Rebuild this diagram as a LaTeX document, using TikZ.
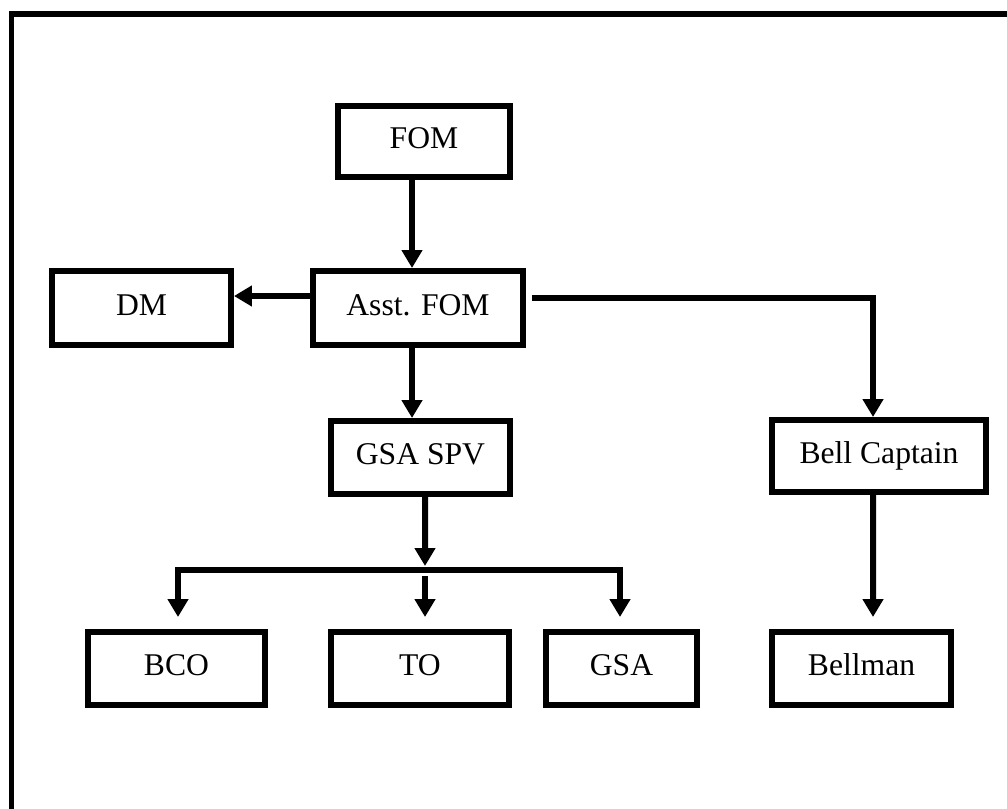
\documentclass[tikz,border=0pt]{standalone}
\usepackage{fontspec}
\setmainfont{Liberation Serif}
\usetikzlibrary{arrows.meta, positioning, calc}

\begin{document}
\begin{tikzpicture}[x=0.02cm, y=-0.02cm,
  box/.style={draw, line width=0.12cm, minimum height=1.46cm, inner sep=0pt,
              text height=0.42cm, text depth=0.14cm,
              font=\fontsize{18}{21}\selectfont},
  link/.style={line width=0.12cm},
  arr/.style={link, -{Triangle[length=0.36cm, width=0.4cm]}}]

\useasboundingbox (0,0) rectangle (1007,808);
\clip (0,0) rectangle (1007,808);

% outer frame (runs off the page right and below)
\draw[link] (11.5,860) |- (1060,14);

\node[box, minimum width=3.44cm, minimum height=1.42cm] (fom)  at (424,141.5) {FOM};
\node[box, minimum width=4.2cm,  minimum height=1.48cm] (asst) at (418,308)   {Asst. FOM};
\node[box, minimum width=3.58cm, minimum height=1.48cm] (dm)   at (141.5,308) {DM};
\node[box, minimum width=3.58cm] (gspv) at (420.5,457.5) {GSA SPV};
\node[box, minimum width=4.28cm, minimum height=1.44cm] (bcap) at (879,456) {Bell Captain};
\node[box, minimum width=3.54cm] (bco)  at (176.5,668.5) {BCO};
\node[box, minimum width=3.56cm] (to)   at (420,668.5)   {TO};
\node[box, minimum width=3.02cm] (gsa)  at (621.5,668.5) {GSA};
\node[box, minimum width=3.58cm] (bell) at (861.5,668.5) {Bellman};

\draw[arr] ($(fom.south)+(-12,0)$) -- ($(asst.north)+(-6,0)$);
\draw[arr] ($(asst.west)+(0,-12)$) -- ($(dm.east)+(0,-12)$);
\draw[arr] ($(asst.east)+(6,-10)$) -| ($(bcap.north)+(-6,0)$);
\draw[arr] ($(asst.south)+(-6,0)$) -- ($(gspv.north)+(-8.5,0)$);

% split to the GSA SPV team
\coordinate (bar) at (425,570);
\draw[arr] ($(gspv.south)+(4.5,0)$) -- ($(bar)+(0,-4)$);
\draw[arr, shorten >=0.24cm] (bar) -| ($(bco.north)+(1.5,0)$);
\draw[arr, shorten >=0.24cm] ($(bar)+(0,6)$) -- (bar |- to.north);
\draw[arr, shorten >=0.24cm] (bar) -| ($(gsa.north)+(-1.5,0)$);

\draw[arr, shorten >=0.24cm] ($(bcap.south)+(-6,0)$) -- ($(bell.north)+(11.5,0)$);

\end{tikzpicture}
\end{document}
